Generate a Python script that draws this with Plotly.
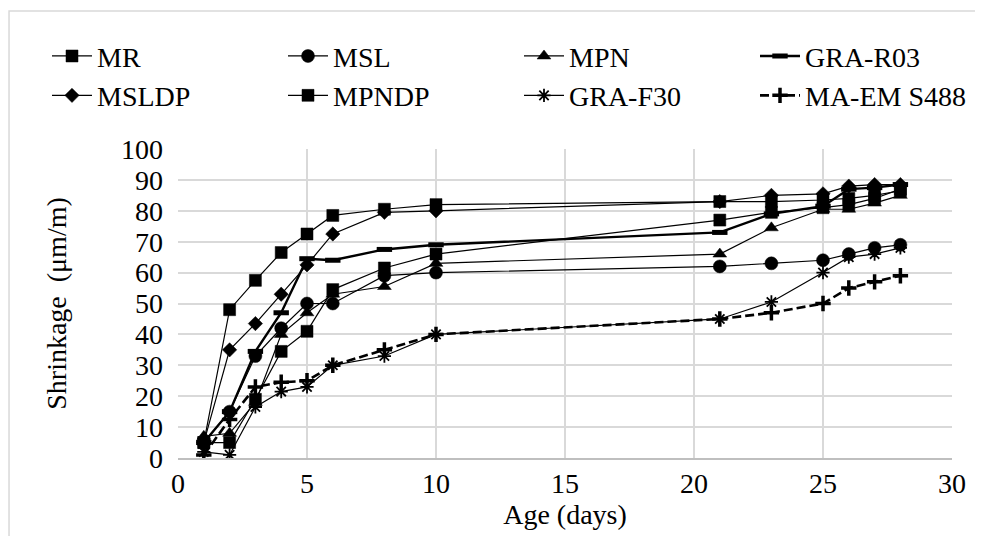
import plotly.graph_objects as go

days = [1, 2, 3, 4, 5, 6, 8, 10, 21, 23, 25, 26, 27, 28]

mr = [5, 48, 57.5, 66.5, 72.5, 78.5, 80.5, 82, 83, 83, 83.5, 84, 85, 86.5]
msl = [5, 15, 33, 42, 50, 50, 59, 60, 62, 63, 64, 66, 68, 69]
mpn = [7, 8, 18, 40, 47, 53, 55.5, 63, 66, 74.5, 80.5, 80.5, 82.5, 85]
gra_r03 = [5, 15, 34.5, 47, 64.5, 64, 67.5, 69, 73, 79, 81.5, 87, 87.5, 88.5]
msldp = [5, 35, 43.5, 53, 62.5, 72.5, 79.5, 80, 83, 85, 85.5, 88, 88.5, 88.5]
mpndp = [5, 5, 19, 34.5, 41, 54.5, 61.5, 66, 77, 79.5, 81, 82, 84, 87]
gra_f30 = [2, 1, 16.5, 21.5, 23, 30, 33, 40, 45, 50.5, 60, 65, 66, 68]
ma_em = [1, 12.5, 23, 24.5, 25, 30, 35, 40, 45, 47, 50, 55, 57, 59]

x_ticks = [0, 5, 10, 15, 20, 25, 30]
y_ticks = list(range(0, 101, 10))

FONT = "Liberation Serif"
FS = 28

series = [
    ("MR", mr, dict(symbol="square", size=12), dict(width=1.2)),
    ("MSL", msl, dict(symbol="circle", size=13), dict(width=1.2)),
    ("MPN", mpn, dict(symbol="triangle-up", size=12), dict(width=1.2)),
    ("GRA-R03", gra_r03, dict(symbol="line-ew", size=11, line=dict(width=5, color="black")), dict(width=2.4)),
    ("MSLDP", msldp, dict(symbol="diamond", size=11), dict(width=1.2)),
    ("MPNDP", mpndp, dict(symbol="square", size=12), dict(width=1.2)),
    ("GRA-F30", gra_f30, dict(symbol="asterisk-open", size=11, line=dict(width=1.8, color="black")), dict(width=1.2)),
    ("MA-EM S488", ma_em, dict(symbol="cross-thin-open", size=11, line=dict(width=3.5, color="black")), dict(width=2.6, dash="9px,4px")),
]

fig = go.Figure()
for name, vals, mk, ln in series:
    m = dict(color="black")
    m.update(mk)
    if "line" not in m:
        m["line"] = dict(width=0.5, color="black")
    l = dict(color="black")
    l.update(ln)
    fig.add_trace(go.Scatter(x=days, y=vals, name=name, mode="lines+markers",
                             marker=m, line=l))

fig.update_layout(
    width=983, height=536,
    margin=dict(l=170, r=39, t=141, b=86),
    paper_bgcolor="white", plot_bgcolor="white",
    font=dict(family=FONT, size=FS, color="black"),
    showlegend=True,
    legend=dict(orientation="h", x=-0.168, xanchor="left", y=1.381, yanchor="top",
                entrywidth=181, entrywidthmode="pixels",
                font=dict(family=FONT, size=FS, color="black"),
                bgcolor="rgba(0,0,0,0)", tracegroupgap=0, itemwidth=40),
    xaxis=dict(range=[0, 30], tickvals=x_ticks, showgrid=True, gridcolor="#d9d9d9",
               gridwidth=1.5, zeroline=False, showline=True, linecolor="#bfbfbf", linewidth=1.5,
               ticks="", tickfont=dict(family=FONT, size=FS),
               title=dict(text="Age (days)", font=dict(family=FONT, size=FS), standoff=0)),
    yaxis=dict(range=[0, 100], tickvals=y_ticks, showgrid=True, gridcolor="#d9d9d9",
               gridwidth=1.5, zeroline=False, showline=False, ticks="",
               tickfont=dict(family=FONT, size=FS), ticklabelstandoff=14,
               title=dict(text="Shrinkage  (μm/m)", font=dict(family=FONT, size=FS), standoff=46)),
    shapes=[dict(type="rect", xref="paper", yref="paper",
                 x0=-0.2183, x1=1.0336, y0=-0.30, y1=1.4466,
                 line=dict(color="#d9d9d9", width=1.5), fillcolor="rgba(0,0,0,0)", layer="below")],
)

fig.write_html("out.html")
